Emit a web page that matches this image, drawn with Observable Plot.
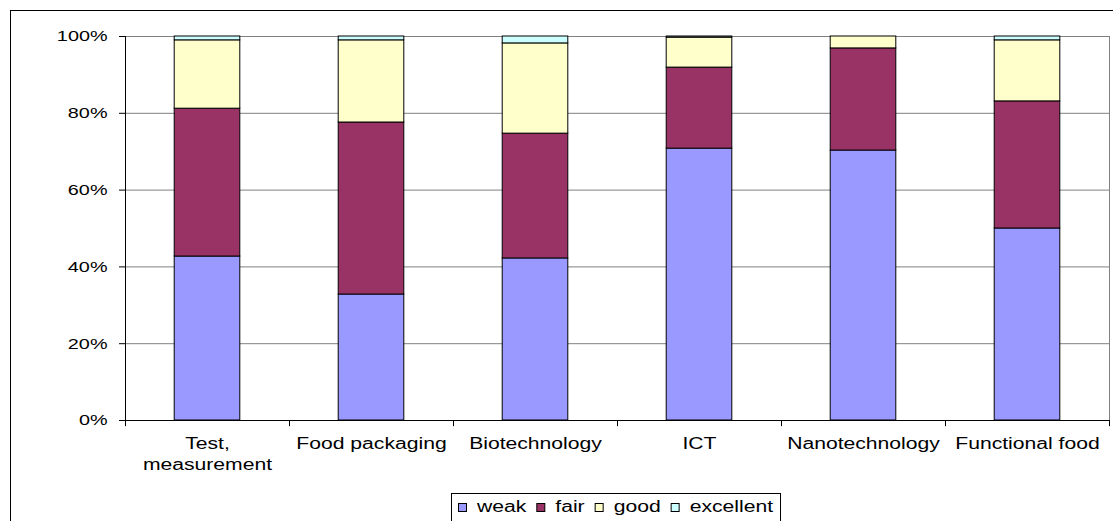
<!DOCTYPE html>
<html><head><meta charset="utf-8">
<script src="https://cdn.jsdelivr.net/npm/d3@7"></script>
<script src="https://cdn.jsdelivr.net/npm/@observablehq/plot@0.6"></script>
<style>
body{margin:0;background:#fff;overflow:hidden;font-family:"Liberation Sans",Arial,sans-serif;}
#wrap{position:relative;width:1113px;height:521px;overflow:hidden;background:#fff;}
#border{position:absolute;left:10px;top:10px;width:1200px;height:600px;border:1px solid #000;}
#chart{position:absolute;left:0;top:0;}
#legend{position:absolute;left:0;top:0;overflow:visible;}
</style></head>
<body><div id="wrap"><div id="border"></div><div id="chart"></div><svg id="legend" width="1113" height="521"></svg></div>
<script>
// ---- data (percent shares) ----
const categories = ["Test, measurement", "Food packaging", "Biotechnology", "ICT", "Nanotechnology", "Functional food"];
const categoryLabels = ["Test,\nmeasurement", "Food packaging", "Biotechnology", "ICT", "Nanotechnology", "Functional food"];
const seriesNames = ["weak", "fair", "good", "excellent"];
const weak      = [42.7, 32.8, 42.2, 70.8, 70.3, 50.0];
const fair      = [38.5, 44.8, 32.5, 21.1, 26.6, 33.1];
const good      = [17.8, 21.4, 23.5, 7.8, 3.1, 15.9];
const excellent = [1.0, 1.0, 1.8, 0.3, 0.0, 1.0];
const seriesColors = ["#9999FF", "#993366", "#FFFFCC", "#CCFFFF"];
const yTicks = [0, 20, 40, 60, 80, 100];

const seriesValues = [weak, fair, good, excellent];
const rows = [];
seriesNames.forEach((s, si) => categories.forEach((c, ci) => rows.push({category: c, series: s, value: seriesValues[si][ci]})));
const labelOf = new Map(categories.map((c, i) => [c, categoryLabels[i]]));

const W = 1113, H = 521, mL = 125, mR = 4;
const half = (W - mL - mR) / categories.length / 2;

const chart = Plot.plot({
  width: W, height: H,
  marginLeft: mL, marginRight: mR, marginTop: 36, marginBottom: 101,
  style: {fontFamily: '"Liberation Sans", Arial, sans-serif', color: "#000", background: "transparent", overflow: "visible"},
  x: {domain: categories, paddingInner: 0.6, paddingOuter: 0.3, round: false, axis: null},
  y: {domain: [0, 100], axis: null},
  color: {domain: seriesNames, range: seriesColors},
  marks: [
    Plot.gridY(yTicks, {stroke: "#808080", strokeOpacity: 1}),
    Plot.frame({stroke: "#808080"}),
    Plot.barY(rows, {x: "category", y: "value", fill: "series", stroke: "#000", strokeWidth: 1}),
    Plot.ruleY([0], {stroke: "#000"}),
    Plot.ruleX([categories[0]], {x: d => d, y1: 0, y2: 100, dx: -half, stroke: "#000"}),
    Plot.ruleX(categories, {x: d => d, y1: 0, y2: -1.6, dx: -half, stroke: "#000"}),
    Plot.ruleX([categories[categories.length - 1]], {x: d => d, y1: 0, y2: -1.6, dx: half, stroke: "#000"}),
    Plot.axisY(yTicks, {tickSize: 6, tickPadding: 12, tickFormat: d => d + "%", fontSize: 15, label: null, stroke: "#000"}),
    Plot.axisX({tickSize: 0, tickPadding: 13, tickFormat: d => labelOf.get(d), fontSize: 16, lineHeight: 1.35, label: null})
  ]
});
document.getElementById("chart").appendChild(chart);

const STRETCH = 1.32;
function stretch(root) {
  root.querySelectorAll("text").forEach(t => {
    const spans = t.querySelectorAll("tspan");
    const targets = spans.length ? Array.from(spans) : [t];
    targets.forEach(el => {
      const L = el.getComputedTextLength();
      if (L > 0) {
        el.setAttribute("textLength", L * STRETCH);
        el.setAttribute("lengthAdjust", "spacingAndGlyphs");
      }
    });
  });
}
stretch(chart);

// ---- legend ----
const lg = d3.select("#legend");
const box = lg.append("rect").attr("fill", "#fff").attr("stroke", "#000").attr("stroke-width", 1);
const items = lg.append("g");
let x = 7;
seriesNames.forEach((s, i) => {
  items.append("rect").attr("x", x + 0.5).attr("y", 503.5).attr("width", 8).attr("height", 8)
    .attr("fill", seriesColors[i]).attr("stroke", "#000").attr("stroke-width", 1);
  const t = items.append("text").attr("x", x + 19).attr("y", 512)
    .attr("font-family", '"Liberation Sans", Arial, sans-serif').attr("font-size", 16).attr("fill", "#000").text(s);
  const L = t.node().getComputedTextLength() * STRETCH;
  t.attr("textLength", L).attr("lengthAdjust", "spacingAndGlyphs");
  x += 19 + L + 10;
});
const bw = x - 3;
const bx = Math.round(616 - bw / 2);
items.attr("transform", `translate(${bx},0)`);
box.attr("x", bx + 0.5).attr("y", 493.5).attr("width", bw).attr("height", 40);
</script>
</body></html>
